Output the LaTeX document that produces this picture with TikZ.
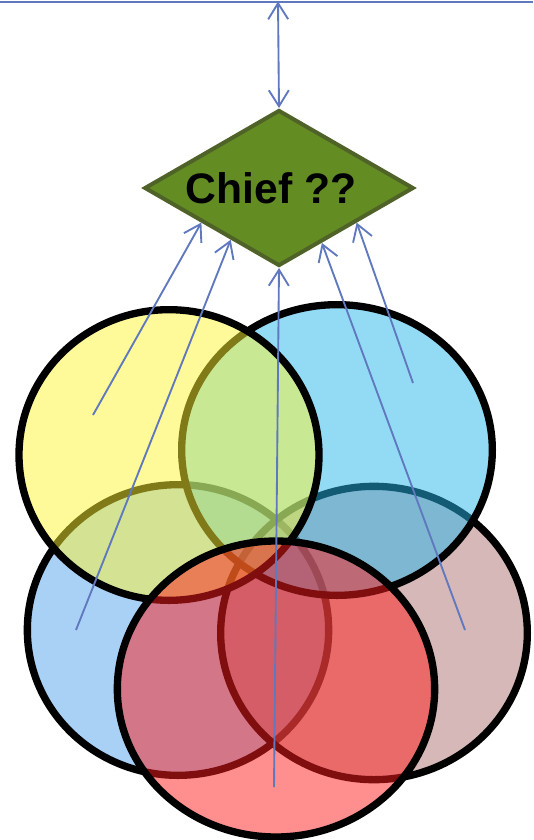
\documentclass[tikz,border=0pt]{standalone}
\usepackage{fontspec}
\setmainfont{Liberation Sans}
\usetikzlibrary{arrows.meta,shapes.geometric}

\definecolor{linkblue}{RGB}{95,120,190}
\definecolor{chiefgreen}{RGB}{99,140,35}
\definecolor{chiefedge}{RGB}{79,98,40}
\definecolor{cYel}{RGB}{255,245,51}
\definecolor{cTop}{RGB}{39,183,235}
\definecolor{cLeft}{RGB}{83,161,235}
\definecolor{cPink}{RGB}{173,113,113}
\definecolor{cRed}{RGB}{255,29,29}

\begin{document}
\begin{tikzpicture}[x=0.75pt, y=-0.75pt,
  venn/.style={ellipse, draw=black, line width=5.5pt, fill opacity=0.5, inner sep=0pt},
  chief/.style={diamond, aspect=1.7, fill=chiefgreen, draw=chiefedge, line width=3pt,
    inner sep=0pt, minimum width=202pt, minimum height=117pt,
    font=\fontsize{32}{38}\selectfont\bfseries},
  bus/.style={draw=linkblue, line width=1.5pt},
  link/.style={draw=linkblue, line width=1.4pt, -{Straight Barb[length=12pt, width=15pt]}}]
  \useasboundingbox (0,0) rectangle (533,840);
  % the five groups
  \node[venn, fill=cLeft, minimum width=226pt, minimum height=218pt] (lb) at (178,630) {};
  \node[venn, fill=cPink, minimum width=230pt, minimum height=220pt] (pk) at (374,633) {};
  \node[venn, fill=cTop, minimum width=233pt, minimum height=218pt] (tb) at (337,450) {};
  \node[venn, fill=cYel, minimum width=225pt, minimum height=218pt] (ye) at (169,455) {};
  \node[venn, fill=cRed, minimum width=238pt, minimum height=222pt] (rd) at (276,689) {};
  % decision
  \node[chief] (chief) at (279,188) {Chief ??\kern12pt};
  % bus on top
  \coordinate (busL) at (0,1.5);
  \coordinate (busR) at (533,1.5);
  \coordinate (busT) at (278,1.5);
  \draw[bus] (busL) -- (busR);
  \draw[link, {Straight Barb[length=12pt, width=15pt]}-{Straight Barb[length=12pt, width=15pt]}] (busT) -- (chief.north);
  % votes
  \coordinate (sYe) at (93,415);
  \coordinate (sLb) at (76,630);
  \coordinate (sRd) at (274,787);
  \coordinate (sPk) at (465,630);
  \coordinate (sTb) at (413,383);
  \draw[link] (sYe) -- (chief.204);
  \draw[link] (sLb) -- (chief.227);
  \draw[link] (sRd) -- (chief.south);
  \draw[link] (sPk) -- (chief.308);
  \draw[link] (sTb) -- (chief.336);
\end{tikzpicture}
\end{document}
